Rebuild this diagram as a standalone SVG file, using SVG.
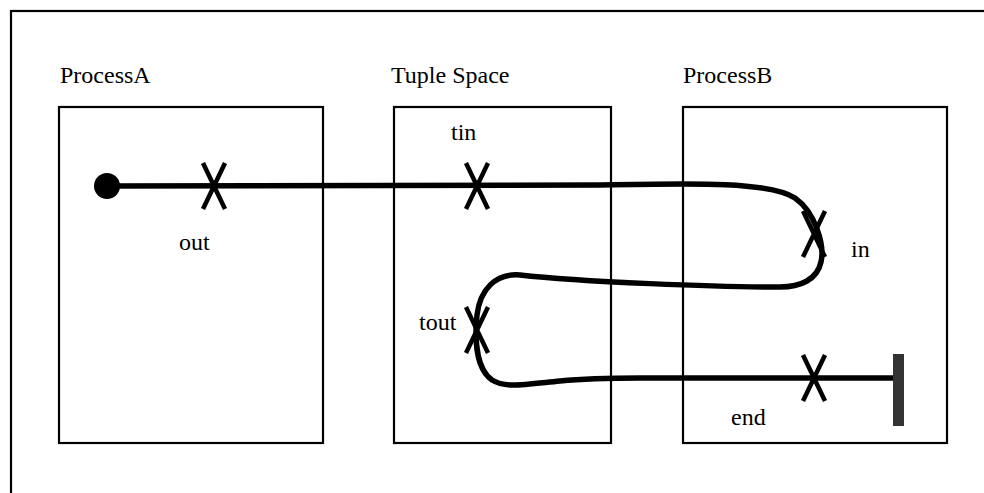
<svg xmlns="http://www.w3.org/2000/svg" width="984" height="493" viewBox="0 0 984 493">
  <style>
    .frame { fill: none; stroke: #000; stroke-width: 2.2; }
    .box { fill: #fff; stroke: #000; stroke-width: 2.2; }
    .lbl { font-family: "Liberation Serif", "Times New Roman", serif; font-size: 24px; fill: #000; }
    .flow { fill: none; stroke: #000; stroke-width: 5.5; stroke-linecap: butt; stroke-linejoin: round; }
    .mark { fill: none; stroke: #000; stroke-width: 4.5; }
  </style>
  <defs>
    <path id="xmark" class="mark" d="M -11 -23 L 11 23 M 11 -23 L -11 23"/>
  </defs>

  <rect class="frame" x="11" y="11" width="1000" height="500"/>

  <g id="processA">
    <rect class="box" x="59" y="107" width="264" height="336"/>
    <text class="lbl" x="60" y="83">ProcessA</text>
  </g>
  <g id="tupleSpace">
    <rect class="box" x="394" y="107" width="217" height="336"/>
    <text class="lbl" x="391" y="83">Tuple Space</text>
  </g>
  <g id="processB">
    <rect class="box" x="683" y="107" width="264" height="336"/>
    <text class="lbl" x="683" y="83">ProcessB</text>
  </g>

  <g id="connectors">
    <circle cx="107" cy="186" r="13" fill="#000"/>
    <path class="flow" d="M 107 186 L 600 185 C 700 183, 770 182, 795 198 C 815 212, 825 245, 821 262 C 817 280, 800 287, 780 287 C 720 287, 580 282, 520 275 C 495 273, 480 290, 477 315 C 474 345, 478 370, 492 380 C 505 388, 520 385, 560 381 C 590 378, 610 378, 640 378 L 898 378"/>
    <rect x="893" y="354" width="11" height="72" fill="#333"/>
  </g>

  <g id="op-out">
    <use href="#xmark" x="214" y="186"/>
    <text class="lbl" x="179" y="250">out</text>
  </g>
  <g id="op-tin">
    <use href="#xmark" x="477" y="186"/>
    <text class="lbl" x="451" y="140">tin</text>
  </g>
  <g id="op-in">
    <use href="#xmark" x="814" y="234"/>
    <text class="lbl" x="851" y="257">in</text>
  </g>
  <g id="op-tout">
    <use href="#xmark" x="477" y="330"/>
    <text class="lbl" x="419" y="330">tout</text>
  </g>
  <g id="op-end">
    <use href="#xmark" x="814" y="378"/>
    <text class="lbl" x="731" y="425">end</text>
  </g>
</svg>
